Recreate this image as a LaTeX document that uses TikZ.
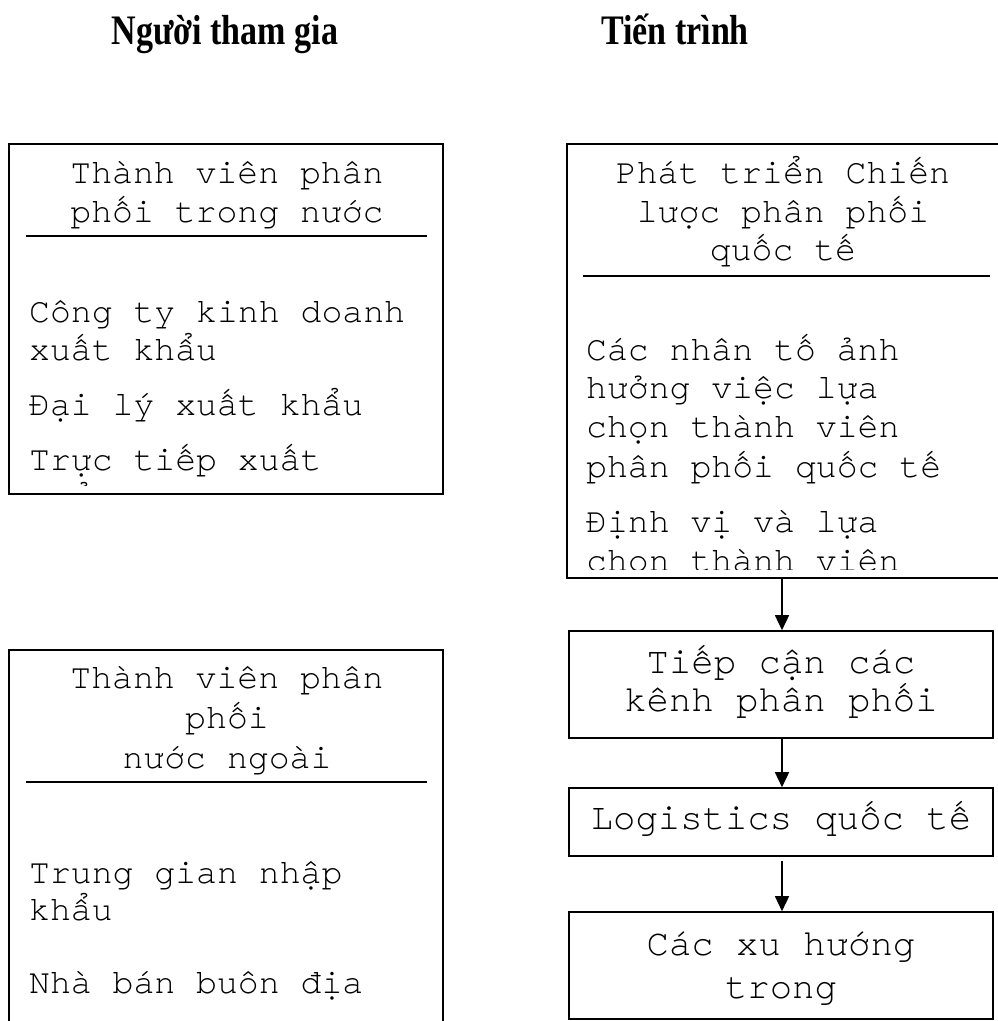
\documentclass[tikz,border=0pt]{standalone}
\usepackage{fontspec}
\usepackage{graphicx}
\setmainfont{Liberation Serif}
\newfontfamily\cour{TeX Gyre Cursor}
\usetikzlibrary{arrows.meta}
\begin{document}
\begin{tikzpicture}[x=1pt,y=-1pt,
  frame/.style={draw, line width=1.6pt, inner sep=0pt},
  sepline/.style={line width=1.8pt},
  mono/.style={font=\cour\fontsize{34.8}{38}\selectfont, inner sep=0pt},
  monobig/.style={font=\cour\fontsize{37.3}{40}\selectfont, inner sep=0pt},
  head/.style={font=\bfseries\fontsize{42}{44}\selectfont, inner sep=0pt},
  arr/.style={-{Triangle[length=15pt,width=14pt]}, line width=1.5pt}]
\useasboundingbox (0,0) rectangle (997,1021);

% headers
\node[head, anchor=base] (h1) at (225,44) {\scalebox{0.81}[1]{Người tham gia}};
\node[head, anchor=base] (h2) at (675,44) {\scalebox{0.81}[1]{Tiến trình}};

% boxes
\node[frame, minimum width=434pt, minimum height=350pt] (b1) at (226,319) {};
\node[frame, minimum width=436pt, minimum height=434pt] (b2) at (785,361) {};
\node[frame, minimum width=434pt, minimum height=390pt] (b3) at (226,845) {};
\node[frame, minimum width=424pt, minimum height=107pt] (b4) at (781,684.5) {};
\node[frame, minimum width=424pt, minimum height=68pt] (b5) at (781,822) {};
\node[frame, minimum width=424pt, minimum height=107pt] (b6) at (781,965.5) {};

% separators
\coordinate (s1a) at (26,236); \coordinate (s1b) at (427,236);
\coordinate (s2a) at (583,276); \coordinate (s2b) at (990,276);
\coordinate (s3a) at (26,782); \coordinate (s3b) at (427,782);
\draw[sepline] (s1a) -- (s1b);
\draw[sepline] (s2a) -- (s2b);
\draw[sepline] (s3a) -- (s3b);

% box 1
\node[mono, anchor=base] (t1a) at (227,183) {Thành viên phân};
\node[mono, anchor=base] (t1b) at (227,222) {phối trong nước};
\begin{scope}
\clip (b1.north west) rectangle ([yshift=9pt]b1.south east);
\node[mono, anchor=base west] (p1a) at (29,322) {Công ty kinh doanh};
\node[mono, anchor=base west] (p1b) at (29,360) {xuất khẩu};
\node[mono, anchor=base west] (p1c) at (29,415) {Đại lý xuất khẩu};
\node[mono, anchor=base west] (p1d) at (29,470) {Trực tiếp xuất};
\node[mono, anchor=base west] (p1e) at (29,509) {khẩu};
\end{scope}

% box 2
\node[mono, anchor=base] (t2a) at (783,183) {Phát triển Chiến};
\node[mono, anchor=base] (t2b) at (783,222) {lược phân phối};
\node[mono, anchor=base] (t2c) at (783,260) {quốc tế};
\begin{scope}
\clip (b2.north west) rectangle ([yshift=9pt]b2.south east);
\node[mono, anchor=base west] (p2a) at (586,360) {Các nhân tố ảnh};
\node[mono, anchor=base west] (p2b) at (586,398) {hưởng việc lựa};
\node[mono, anchor=base west] (p2c) at (586,437) {chọn thành viên};
\node[mono, anchor=base west] (p2d) at (586,477) {phân phối quốc tế};
\node[mono, anchor=base west] (p2e) at (586,532) {Định vị và lựa};
\node[mono, anchor=base west] (p2f) at (586,571) {chọn thành viên};
\end{scope}

% box 3
\node[mono, anchor=base] (t3a) at (227,688) {Thành viên phân};
\node[mono, anchor=base] (t3b) at (227,728) {phối};
\node[mono, anchor=base] (t3c) at (227,768) {nước ngoài};
\node[mono, anchor=base west] (p3a) at (29,883) {Trung gian nhập};
\node[mono, anchor=base west] (p3b) at (29,920) {khẩu};
\node[mono, anchor=base west] (p3c) at (29,993) {Nhà bán buôn địa};

% process boxes text
\node[monobig, anchor=base] (t4a) at (781,673) {Tiếp cận các};
\node[monobig, anchor=base] (t4b) at (781,711) {kênh phân phối};
\node[monobig, anchor=base] (t5a) at (781,829) {Logistics quốc tế};
\node[monobig, anchor=base] (t6a) at (781,955) {Các xu hướng};
\node[monobig, anchor=base] (t6b) at (781,998) {trong};

% arrows
\draw[arr] ([xshift=1pt]b4.north |- b2.south) -- ([xshift=1pt]b4.north);
\draw[arr] ([xshift=1pt]b4.south) -- ([xshift=1pt]b5.north);
\draw[arr] ([xshift=1pt,yshift=-4pt]b5.south) -- ([xshift=1pt]b6.north);
\end{tikzpicture}
\end{document}
